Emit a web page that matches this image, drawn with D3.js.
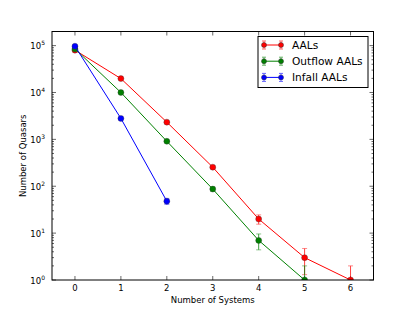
<!DOCTYPE html>
<html>
<head>
<meta charset="utf-8">
<script src="https://cdn.jsdelivr.net/npm/d3@7"></script>
<style>
  body { margin: 0; background: #fff; }
  svg { display: block; font-family: "DejaVu Sans", sans-serif; }
</style>
</head>
<body>
<div class="container"></div>
<script>
var width = 415;
var height = 312;
var margin = {top: 31.5, right: 41.5, bottom: 32, left: 52};

// data
var systems = [0, 1, 2, 3, 4, 5, 6];
var aals = [80000, 19800, 2330, 255, 20, 3, 1];
var aals_err = [283, 141, 48, 16, 4.5, 1.7, 1];
var outflow = [85000, 10000, 910, 87, 7, 1];
var outflow_err = [292, 100, 30, 9.3, 2.6, 1];
var infall = [97000, 2800, 48];
var infall_err = [311, 53, 7];
var names = ["AALs", "Outflow AALs", "Infall AALs"];
var colors = ["#ff0000", "#008000", "#0000ff"];
var yTicks = [1, 10, 100, 1000, 10000, 100000];
var yExp = [0, 1, 2, 3, 4, 5];

var series = [
  {name: names[0], color: colors[0], y: aals, err: aals_err},
  {name: names[1], color: colors[1], y: outflow, err: outflow_err},
  {name: names[2], color: colors[2], y: infall, err: infall_err}
];

var xScale = d3.scaleLinear().domain([-0.5, 6.5]).range([margin.left, width - margin.right]);
var yScale = d3.scaleLog().domain([1, 2e5]).range([height - margin.bottom, margin.top]);

var svg = d3.select(".container").append("svg")
  .attr("width", width).attr("height", height);

svg.append("defs").append("clipPath").attr("id", "plot-clip")
  .append("rect")
  .attr("x", margin.left).attr("y", margin.top)
  .attr("width", width - margin.left - margin.right)
  .attr("height", height - margin.top - margin.bottom);

//-----------------------------------------
// ticks (inward, all four sides)
var x0 = margin.left, x1 = width - margin.right;
var y0 = height - margin.bottom, y1 = margin.top;
var ticks = svg.append("g").attr("stroke", "#000").attr("stroke-width", 0.6);

systems.forEach(function(s) {
  var x = xScale(s);
  ticks.append("line").attr("x1", x).attr("x2", x).attr("y1", y0).attr("y2", y0 - 4);
  ticks.append("line").attr("x1", x).attr("x2", x).attr("y1", y1).attr("y2", y1 + 4);
});

var minor = [];
for (var e = 0; e < 6; e++) {
  for (var m = 2; m <= 9; m++) {
    var v = m * Math.pow(10, e);
    if (v < 2e5) minor.push(v);
  }
}
minor.forEach(function(v) {
  var y = yScale(v);
  ticks.append("line").attr("x1", x0).attr("x2", x0 + 2).attr("y1", y).attr("y2", y);
  ticks.append("line").attr("x1", x1).attr("x2", x1 - 2).attr("y1", y).attr("y2", y);
});
yTicks.forEach(function(v) {
  var y = yScale(v);
  ticks.append("line").attr("x1", x0).attr("x2", x0 + 4).attr("y1", y).attr("y2", y);
  ticks.append("line").attr("x1", x1).attr("x2", x1 - 4).attr("y1", y).attr("y2", y);
});

//-----------------------------------------
// tick labels
svg.selectAll(".xlab").data(systems).enter().append("text")
  .attr("class", "xlab")
  .attr("x", function(d) { return xScale(d); })
  .attr("y", y0 + 10.5)
  .attr("text-anchor", "middle")
  .attr("font-size", 8.5)
  .text(function(d) { return d; });

var ylab = svg.selectAll(".ylab").data(yTicks).enter().append("text")
  .attr("class", "ylab")
  .attr("x", x0 - 7)
  .attr("y", function(d) { return yScale(d) + 3.5; })
  .attr("text-anchor", "end")
  .attr("font-size", 8.5);
ylab.append("tspan").text("10");
ylab.append("tspan").attr("dy", -4).attr("font-size", 6).text(function(d, i) { return yExp[i]; });

svg.append("text")
  .attr("x", xScale(3)).attr("y", height - 9)
  .attr("text-anchor", "middle").attr("font-size", 8.5)
  .text("Number of Systems");

svg.append("text")
  .attr("transform", "translate(26," + ((y0 + y1) / 2) + ") rotate(-90)")
  .attr("text-anchor", "middle").attr("font-size", 8.5)
  .text("Number of Quasars");

//-----------------------------------------
// series
var plot = svg.append("g").attr("clip-path", "url(#plot-clip)");

series.forEach(function(s) {
  var pts = s.y.map(function(v, i) { return {x: systems[i], y: v, e: s.err[i]}; });
  var line = d3.line().x(function(d) { return xScale(d.x); }).y(function(d) { return yScale(d.y); });
  var g = plot.append("g");

  g.append("path").datum(pts)
    .attr("d", line).attr("fill", "none")
    .attr("stroke", s.color).attr("stroke-width", 1);

  pts.forEach(function(d) {
    var lo = d.y - d.e > 0 ? yScale(d.y - d.e) : y0 + 10;
    var hi = yScale(d.y + d.e);
    var x = xScale(d.x);
    var eb = g.append("g").attr("stroke", s.color).attr("stroke-width", 1).attr("opacity", 0.75);
    eb.append("line").attr("x1", x).attr("x2", x).attr("y1", lo).attr("y2", hi);
    eb.append("line").attr("x1", x - 2.5).attr("x2", x + 2.5).attr("y1", hi).attr("y2", hi).attr("opacity", 0.6);
    eb.append("line").attr("x1", x - 2.5).attr("x2", x + 2.5).attr("y1", lo).attr("y2", lo).attr("opacity", 0.6);
  });

  g.selectAll("circle").data(pts).enter().append("circle")
    .attr("cx", function(d) { return xScale(d.x); })
    .attr("cy", function(d) { return yScale(d.y); })
    .attr("r", 3)
    .attr("fill", s.color)
    .attr("stroke", "#333").attr("stroke-width", 0.5).attr("stroke-opacity", 0.7);
});

// frame
svg.append("rect")
  .attr("x", x0).attr("y", y1)
  .attr("width", x1 - x0).attr("height", y0 - y1)
  .attr("fill", "none").attr("stroke", "#000").attr("stroke-width", 1);

//-----------------------------------------
// legend
var lg = svg.append("g");
lg.append("rect")
  .attr("x", 258).attr("y", 36.5).attr("width", 110).attr("height", 51)
  .attr("fill", "#fff").attr("stroke", "#000").attr("stroke-width", 1);

series.forEach(function(s, i) {
  var y = 45 + i * 16.2;
  var row = lg.append("g");
  row.append("line").attr("x1", 264).attr("x2", 281).attr("y1", y).attr("y2", y)
    .attr("stroke", s.color).attr("stroke-width", 1);
  [264, 281].forEach(function(x) {
    var eb = row.append("g").attr("stroke", s.color).attr("opacity", 0.6);
    eb.append("line").attr("x1", x).attr("x2", x).attr("y1", y - 4).attr("y2", y + 4);
    eb.append("line").attr("x1", x - 2).attr("x2", x + 2).attr("y1", y - 4).attr("y2", y - 4);
    eb.append("line").attr("x1", x - 2).attr("x2", x + 2).attr("y1", y + 4).attr("y2", y + 4);
    row.append("circle").attr("cx", x).attr("cy", y).attr("r", 2.5)
      .attr("fill", s.color).attr("stroke", "#333").attr("stroke-width", 0.5);
  });
  row.append("text").attr("x", 292).attr("y", y + 3.8)
    .attr("font-size", 10.6).text(s.name);
});
</script>
</body>
</html>
